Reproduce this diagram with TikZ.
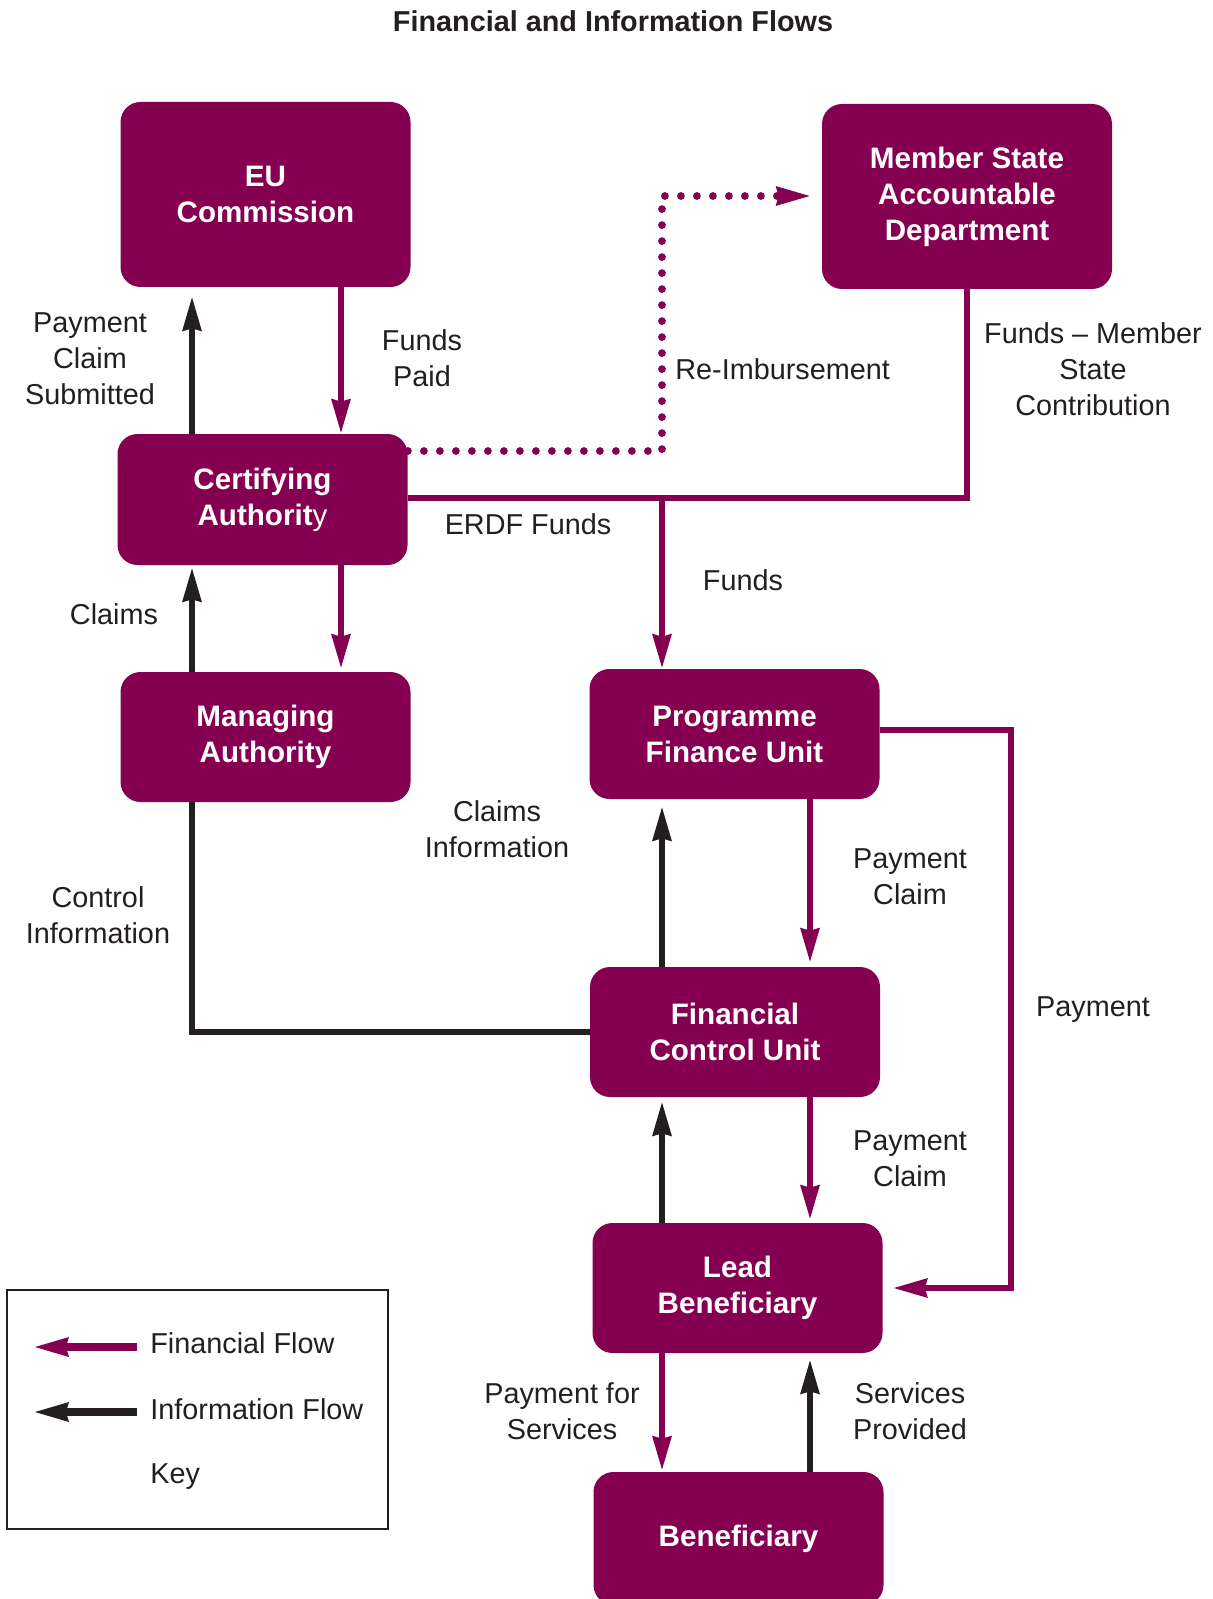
\documentclass[tikz,border=0pt]{standalone}
\usepackage{fontspec}
\setmainfont{Liberation Sans}
\usetikzlibrary{arrows.meta}
\definecolor{plum}{RGB}{133,0,80}
\definecolor{ink}{RGB}{35,31,32}
\tikzset{
  box/.style={fill=plum, rounded corners=10pt, text=white,
    font=\fontsize{14.8}{18}\selectfont\bfseries, align=center,
    minimum width=145pt, minimum height=65pt, inner sep=0pt},
  lbl/.style={text=ink, font=\fontsize{14.4}{18}\selectfont, align=center, inner sep=0pt},
  fin/.style={draw=plum, line width=3.2pt},
  info/.style={draw=ink, line width=3.4pt},
  tipf/.style={-{Stealth[length=17pt,width=10pt,inset=1.5pt,line width=0pt]}},
}
\begin{document}
\begin{tikzpicture}[x=0.5pt,y=-0.5pt]
\useasboundingbox (0,0) rectangle (1213,1599);
\clip (0,0) rectangle (1213,1599);

% title
\node[lbl, font=\fontsize{14.4}{17}\selectfont\bfseries] (title) at (613,21) {Financial and Information Flows};

% boxes
\node[box, minimum height=92.5pt] (EU) at (265.5,194.5) {EU\\Commission};
\node[box, minimum height=92.5pt] (MS) at (967,196.5) {Member State\\Accountable\\Department};
\node[box, minimum height=65.5pt] (CA) at (262.5,499.5) {Certifying\\Authorit\textmd{y}};
\node[box] (MA) at (265.5,737) {Managing\\Authority};
\node[box] (PFU) at (734.5,734) {Programme\\Finance Unit};
\node[box] (FCU) at (735,1032) {Financial\\Control Unit};
\node[box] (LB) at (737.5,1288) {Lead\\Beneficiary};
\node[box, minimum height=66.5pt] (BEN) at (738.5,1538.5) {Beneficiary};

% columns
\coordinate (cL) at (192,0);
\coordinate (cM) at (341,0);
\coordinate (cC) at (662,0);
\coordinate (cR) at (810,0);

% EU / CA / MA
\draw[fin,tipf,shorten >=0.5pt] (EU.south -| cM) -- (CA.north -| cM);
\draw[info,tipf,shorten >=5pt] (CA.north -| cL) -- (EU.south -| cL);
\draw[fin,tipf,shorten >=2pt] (CA.south -| cM) -- (MA.north -| cM);
\draw[info,tipf,shorten >=1.5pt] (MA.north -| cL) -- (CA.south -| cL);

% control information
\coordinate (ci) at (192,1032);
\draw[info] (MA.south -| ci) -- (ci) -- (FCU.west);

% re-imbursement (dotted)
\coordinate (d1) at (662,451);
\coordinate (d2) at (662,196);
\draw[fin, line width=3.9pt, dash pattern=on 0pt off 8pt, line cap=round, tipf, shorten >=6pt]
  (CA.east |- d1) -- (d1) -- (d2) -- (MS.west |- d2);

% ERDF funds
\coordinate (e1) at (967,498);
\coordinate (e2) at (662,498);
\draw[fin] (MS.south) -- (e1) -- (CA.east |- e1);
\draw[fin,tipf,shorten >=0.5pt] (e2) -- (PFU.north -| e2);

% payment loop
\coordinate (p1) at (1011,730);
\draw[fin,tipf,shorten >=5.5pt] (PFU.east |- p1) -- (p1) -- (p1 |- LB.east) -- (LB.east);

% middle column flows
\draw[fin,tipf,shorten >=2.5pt] (PFU.south -| cR) -- (FCU.north -| cR);
\draw[info,tipf,shorten >=4pt] (FCU.north -| cC) -- (PFU.south -| cC);
\draw[fin,tipf,shorten >=2pt] (FCU.south -| cR) -- (LB.north -| cR);
\draw[info,tipf,shorten >=2.5pt] (LB.north -| cC) -- (FCU.south -| cC);
\draw[fin,tipf,shorten >=1pt] (LB.south -| cC) -- (BEN.north -| cC);
\draw[info,tipf,shorten >=3.5pt] (BEN.north -| cR) -- (LB.south -| cR);

% labels
\node[lbl] (l1) at (90,359) {Payment\\Claim\\Submitted};
\node[lbl] (l2) at (422,358.5) {Funds\\Paid};
\node[lbl, anchor=west] (l3) at (675,369) {Re-Imbursement};
\node[lbl] (l4) at (1093,369.5) {Funds – Member\\State\\Contribution};
\node[lbl] (l5) at (528,524) {ERDF Funds};
\node[lbl] (l6) at (743,580) {Funds};
\node[lbl] (l7) at (114,614) {Claims};
\node[lbl] (l8) at (497,829) {Claims\\Information};
\node[lbl] (l9) at (98,915.5) {Control\\Information};
\node[lbl] (l10) at (910,877) {Payment\\Claim};
\node[lbl] (l11) at (1093,1010) {Payment};
\node[lbl] (l12) at (910,1158.5) {Payment\\Claim};
\node[lbl] (l13) at (562,1411.5) {Payment for\\Services};
\node[lbl] (l14) at (910,1411.5) {Services\\Provided};

% key
\node[draw=ink, line width=1pt, minimum width=190.5pt, minimum height=119.5pt, inner sep=0pt] (key) at (197.5,1409.5) {};
\coordinate (k1s) at (137,1347);
\coordinate (k1e) at (35,1347);
\coordinate (k2s) at (137,1412);
\coordinate (k2e) at (35,1412);
\draw[fin, line width=4pt, tipf] (k1s) -- (k1e);
\draw[info, line width=4pt, tipf] (k2s) -- (k2e);
\node[lbl, anchor=west] (kt1) at (150,1343) {Financial Flow};
\node[lbl, anchor=west] (kt2) at (150,1409) {Information Flow};
\node[lbl, anchor=west] (kt3) at (150,1477) {Key};
\end{tikzpicture}
\end{document}
